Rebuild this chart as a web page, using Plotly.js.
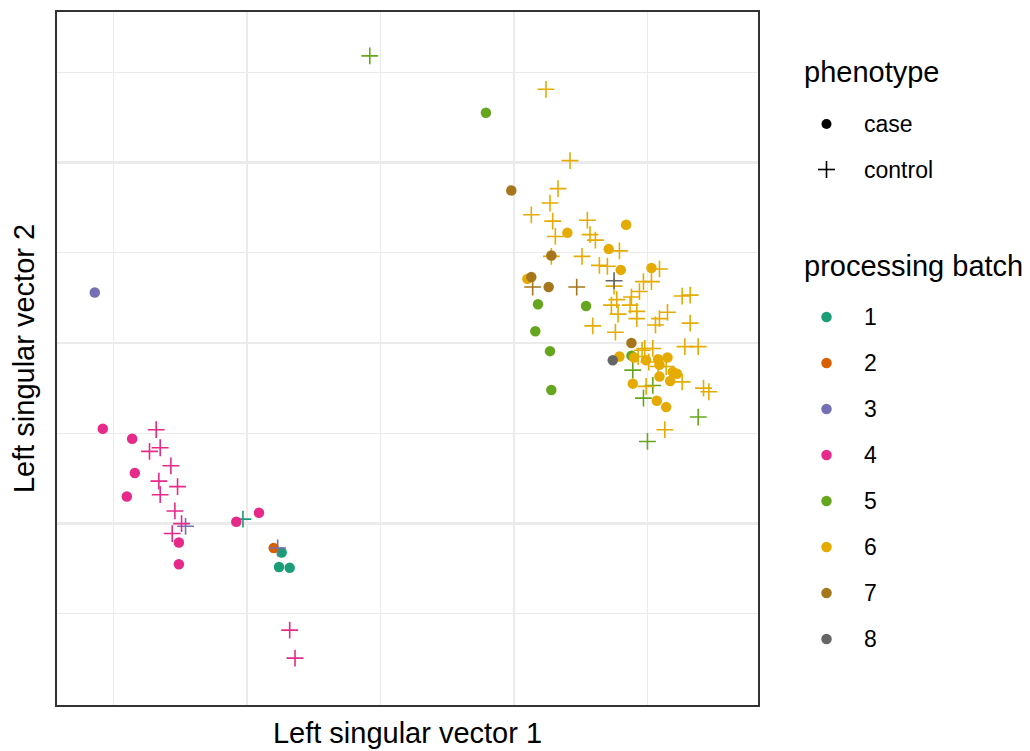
<!DOCTYPE html>
<html>
<head>
<meta charset="utf-8">
<script src="https://cdn.plot.ly/plotly-3.0.1.min.js"></script>
<style>html,body{margin:0;padding:0;background:#fff;}#chart{width:1030px;height:751px;}</style>
</head>
<body>
<div id="chart"></div>
<script>
// ---- data ----
const batches = ['1','2','3','4','5','6','7','8'];
const batchColors = ['#1B9E77','#D95F02','#7570B3','#E7298A','#66A61E','#E6AB02','#A6761D','#666666'];
const phenotypes = ['case','control'];

// case samples
const caseBatch = ['1','1','1','2','3',
  '4','4','4','4','4','4','4','4',
  '5','5','5','5','5','5','5',
  '6','6','6','6','6','6','6','6','6','6','6','6','6','6','6','6','6','6','6',
  '7','7','7','7','7','8'];
const caseX = [0.26,0.24,0.32,0.20,-1.14,
  -1.08,-0.86,-0.84,-0.90,-0.51,-0.51,-0.08,0.09,
  1.79,2.18,2.54,2.16,2.27,2.28,2.88,
  2.40,2.84,2.71,2.80,3.03,2.10,2.79,2.90,2.99,3.08,3.15,3.09,3.19,3.22,3.09,3.17,2.89,3.07,3.14,
  1.98,2.28,2.13,2.26,2.88,2.74];
const caseY = [-2.32,-2.48,-2.49,-2.27,0.56,
  -0.95,-1.06,-1.44,-1.70,-2.21,-2.45,-1.98,-1.88,
  2.55,0.43,0.41,0.13,-0.09,-0.52,-0.14,
  1.22,1.31,1.04,0.81,0.83,0.71,-0.15,-0.16,-0.19,-0.18,-0.16,-0.24,-0.32,-0.34,-0.37,-0.42,-0.45,-0.64,-0.71,
  1.69,0.97,0.73,0.62,0.00,-0.19];

// control samples
const controlBatch = ['1','3','3',
  '4','4','4','4','4','4','4','4','4','4','4','4',
  '5','5','5','5','5','5',
  '6','6','6','6','6','6','6','6','6','6','6','6','6','6','6','6','6','6','6','6','6','6','6','6','6','6','6','6','6','6','6','6','6','6','6','6','6','6','6','6','6','6','6','6','6','6','6','6','6',
  '7','7','8'];
const controlX = [-0.03,-0.46,0.23,
  -0.68,-0.65,-0.73,-0.57,-0.66,-0.52,-0.65,-0.54,-0.49,-0.56,0.32,0.36,
  0.92,2.89,3.04,2.97,3.38,3.00,
  2.24,2.42,2.33,2.27,2.13,2.29,2.55,2.31,2.57,2.61,2.79,2.28,2.51,2.64,2.70,3.09,2.75,2.97,3.03,2.94,2.88,2.77,2.73,2.87,2.78,2.92,2.92,3.26,3.32,3.15,3.09,3.06,3.32,2.59,2.76,3.28,3.38,2.98,3.04,2.96,2.93,3.01,3.08,3.14,3.26,2.99,3.42,3.46,3.13,
  2.14,2.47,2.75];
const controlY = [-1.95,-2.03,-2.27,
  -0.96,-1.16,-1.20,-1.36,-1.53,-1.59,-1.68,-1.86,-2.00,-2.11,-3.18,-3.49,
  3.18,-0.30,-0.47,-0.61,-0.82,-1.09,
  2.81,2.02,1.71,1.55,1.42,1.35,1.36,1.18,1.20,1.14,1.02,0.96,0.96,0.86,0.85,0.82,0.63,0.68,0.68,0.57,0.51,0.48,0.42,0.42,0.32,0.35,0.27,0.52,0.53,0.34,0.27,0.20,0.22,0.19,0.12,-0.04,-0.04,-0.06,-0.06,-0.08,-0.15,-0.21,-0.26,-0.26,-0.43,-0.48,-0.50,-0.54,-0.96,
  0.62,0.62,0.69];

const xTitle = 'Left singular vector 1';
const yTitle = 'Left singular vector 2';
const phenotypeTitle = 'phenotype';
const batchTitle = 'processing batch';

// ---- traces ----
const traces = [];
batches.forEach((b, i) => {
  const sets = [
    {bx: caseBatch, xs: caseX, ys: caseY, sym: 'circle', size: 10.5, lw: 0, name: 'case'},
    {bx: controlBatch, xs: controlX, ys: controlY, sym: 'cross-thin-open', size: 12, lw: 1.6, name: 'control'}
  ];
  sets.forEach(s => {
    const xs = [], ys = [];
    s.bx.forEach((bb, k) => { if (bb === b) { xs.push(s.xs[k]); ys.push(s.ys[k]); } });
    if (!xs.length) return;
    traces.push({
      type: 'scatter', mode: 'markers', x: xs, y: ys,
      name: 'batch ' + b + ' ' + s.name, showlegend: false, hoverinfo: 'skip',
      marker: {symbol: s.sym, size: s.size, color: batchColors[i],
               line: {width: s.lw, color: batchColors[i]}}
    });
  });
});

// ---- layout ----
const L = 57, R = 758, T = 12, B = 705;
const W = 1030, H = 751;
const PX = x => (x - L) / (R - L);
const PY = y => (B - y) / (B - T);
const font = 'Liberation Sans, Arial, Helvetica, sans-serif';

const annotations = [];
const shapes = [];
annotations.push({xref:'paper', yref:'paper', x: PX(802), y: PY(72), xanchor:'left', yanchor:'middle',
  text: phenotypeTitle, showarrow:false, font:{family:font, size:29, color:'#000'}});
annotations.push({xref:'paper', yref:'paper', x: PX(802), y: PY(266), xanchor:'left', yanchor:'middle',
  text: batchTitle, showarrow:false, font:{family:font, size:29, color:'#000'}});

phenotypes.forEach((p, i) => {
  const yc = 124 + i * 45.5;
  annotations.push({xref:'paper', yref:'paper', x: PX(862), y: PY(yc), xanchor:'left', yanchor:'middle',
    text: p, showarrow:false, font:{family:font, size:23, color:'#000'}});
  if (p === 'case') {
    shapes.push({type:'circle', xref:'paper', yref:'paper', xsizemode:'pixel', ysizemode:'pixel',
      xanchor: PX(826.5), yanchor: PY(yc), x0:-5, x1:5, y0:-5, y1:5,
      fillcolor:'#000', line:{width:0}});
  } else {
    shapes.push({type:'line', xref:'paper', yref:'paper', xsizemode:'pixel', ysizemode:'pixel',
      xanchor: PX(826.5), yanchor: PY(yc), x0:-8.5, x1:8.5, y0:0, y1:0, line:{width:1.6, color:'#000'}});
    shapes.push({type:'line', xref:'paper', yref:'paper', xsizemode:'pixel', ysizemode:'pixel',
      xanchor: PX(826.5), yanchor: PY(yc), x0:0, x1:0, y0:-8.5, y1:8.5, line:{width:1.6, color:'#000'}});
  }
});

batches.forEach((b, i) => {
  const yc = 317 + i * 46;
  annotations.push({xref:'paper', yref:'paper', x: PX(862), y: PY(yc), xanchor:'left', yanchor:'middle',
    text: b, showarrow:false, font:{family:font, size:23, color:'#000'}});
  shapes.push({type:'circle', xref:'paper', yref:'paper', xsizemode:'pixel', ysizemode:'pixel',
    xanchor: PX(826.5), yanchor: PY(yc), x0:-5.25, x1:5.25, y0:-5.25, y1:5.25,
    fillcolor: batchColors[i], line:{width:0}});
});

const layout = {
  width: W, height: H,
  margin: {l: L, r: W - R, t: T, b: H - B, pad: 0},
  paper_bgcolor: '#fff', plot_bgcolor: '#fff',
  showlegend: false,
  font: {family: font, color: '#000'},
  xaxis: {
    range: [-1.423, 3.828], tickmode: 'array', tickvals: [0, 2],
    showticklabels: false, ticks: '', zeroline: false,
    showgrid: true, gridcolor: '#EBEBEB', gridwidth: 2.2,
    minor: {tickmode: 'array', tickvals: [-1, 1, 3], showgrid: true, gridcolor: '#EBEBEB', gridwidth: 1.2, ticks: ''},
    showline: true, mirror: true, linecolor: '#333333', linewidth: 2,
    title: {text: xTitle, font: {family: font, size: 29, color: '#000'}, standoff: 17},
    automargin: false
  },
  yaxis: {
    range: [-4.009, 3.666], tickmode: 'array', tickvals: [-2, 0, 2],
    showticklabels: false, ticks: '', zeroline: false,
    showgrid: true, gridcolor: '#EBEBEB', gridwidth: 2.2,
    minor: {tickmode: 'array', tickvals: [-3, -1, 1, 3], showgrid: true, gridcolor: '#EBEBEB', gridwidth: 1.2, ticks: ''},
    showline: true, mirror: true, linecolor: '#333333', linewidth: 2,
    title: {text: yTitle, font: {family: font, size: 29, color: '#000'}, standoff: 12},
    automargin: false
  },
  annotations: annotations,
  shapes: shapes
};

Plotly.newPlot('chart', traces, layout, {displayModeBar: false, staticPlot: true});
</script>
</body>
</html>
